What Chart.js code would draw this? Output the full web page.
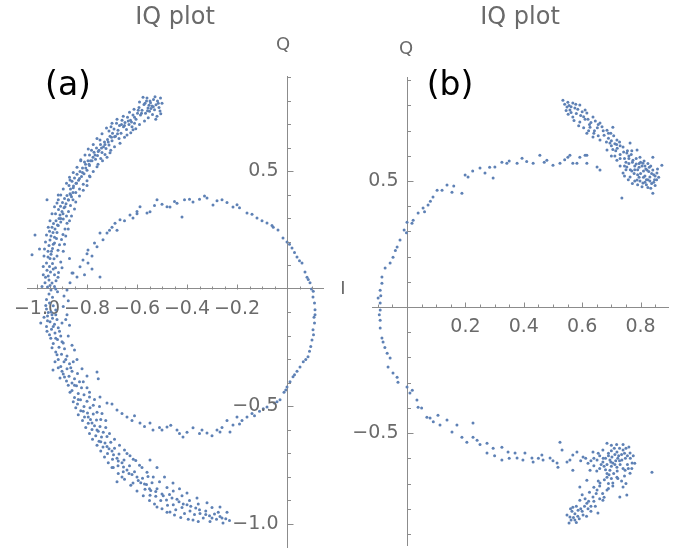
<!DOCTYPE html>
<html>
<head>
<meta charset="utf-8">
<script src="https://cdn.jsdelivr.net/npm/chart.js@4.4.0/dist/chart.umd.min.js"></script>
<style>
  html, body { margin: 0; padding: 0; background: #fff; }
  #wrap { position: relative; width: 685px; height: 549px; overflow: hidden; }
  canvas { position: absolute; top: 0; }
  #chartA { left: 0; }
  #chartB { left: 351px; }
</style>
</head>
<body>
<div id="wrap">
  <canvas id="chartA" width="350" height="549"></canvas>
  <canvas id="chartB" width="334" height="549"></canvas>
</div>
<script>
// --- PAINEL (a): pontos I/Q ---
// arco externo, metade de cima (da ponta superior até o eixo I)
const ARCO_A_SUP = [
  [-0.500,0.790],[-0.506,0.812],[-0.512,0.772],[-0.518,0.800],[-0.524,0.784],[-0.530,0.762],[-0.534,0.806],[-0.540,0.778],
  [-0.546,0.792],[-0.550,0.756],[-0.556,0.770],[-0.562,0.800],[-0.566,0.748],[-0.572,0.785],[-0.576,0.816],[-0.580,0.760],
  [-0.586,0.740],[-0.592,0.772],[-0.508,0.757],[-0.520,0.735],[-0.538,0.742],[-0.528,0.818],[-0.544,0.768],[-0.552,0.782],
  [-0.598,0.748],[-0.604,0.722],[-0.610,0.705],[-0.616,0.740],[-0.620,0.690],[-0.626,0.718],[-0.632,0.700],[-0.638,0.730],
  [-0.642,0.678],[-0.648,0.708],[-0.654,0.690],[-0.660,0.718],[-0.664,0.662],[-0.670,0.695],[-0.676,0.675],[-0.682,0.705],
  [-0.686,0.650],[-0.692,0.680],[-0.698,0.662],[-0.704,0.690],[-0.616,0.677],[-0.640,0.655],[-0.672,0.640],[-0.712,0.672],
  [-0.700,0.630],[-0.708,0.650],[-0.712,0.612],[-0.718,0.636],[-0.724,0.598],[-0.730,0.625],[-0.734,0.605],[-0.740,0.580],
  [-0.746,0.615],[-0.748,0.634],[-0.752,0.590],[-0.758,0.568],[-0.762,0.600],[-0.766,0.552],[-0.772,0.582],[-0.776,0.560],
  [-0.782,0.590],[-0.786,0.545],[-0.708,0.579],[-0.720,0.560],[-0.738,0.545],[-0.790,0.570],[-0.756,0.530],
  [-0.790,0.525],[-0.796,0.545],[-0.800,0.505],[-0.806,0.530],[-0.812,0.490],[-0.818,0.515],[-0.822,0.478],[-0.828,0.500],
  [-0.834,0.462],[-0.840,0.488],[-0.844,0.450],[-0.850,0.472],[-0.854,0.438],[-0.860,0.458],[-0.866,0.425],[-0.868,0.464],
  [-0.872,0.440],[-0.788,0.477],[-0.800,0.460],[-0.815,0.445],[-0.830,0.425],[-0.845,0.410],[-0.810,0.540],[-0.825,0.550],
  [-0.856,0.410],[-0.862,0.392],[-0.868,0.405],[-0.874,0.378],[-0.880,0.398],[-0.884,0.362],[-0.890,0.385],[-0.892,0.345],
  [-0.898,0.368],[-0.900,0.330],[-0.906,0.352],[-0.908,0.315],[-0.914,0.338],[-0.920,0.366],[-0.856,0.379],[-0.866,0.355],
  [-0.874,0.330],[-0.882,0.310],[-0.926,0.320],[-0.960,0.380],[-0.915,0.400],
  [-0.895,0.298],[-0.905,0.285],[-0.912,0.300],[-0.918,0.272],[-0.924,0.290],[-0.928,0.255],[-0.934,0.278],[-0.936,0.240],
  [-0.940,0.262],[-0.944,0.225],[-0.948,0.208],[-0.950,0.245],[-0.952,0.185],[-0.956,0.160],[-0.880,0.280],[-0.888,0.255],
  [-0.896,0.232],[-0.902,0.210],[-0.910,0.188],[-0.916,0.165],[-0.922,0.215],[-0.930,0.195],[-0.938,0.172],[-1.008,0.230],
  [-0.990,0.170],[-1.020,0.145],[-0.870,0.130],[-1.116,0.162],
  [-0.920,0.140],[-0.932,0.128],[-0.944,0.148],[-0.956,0.136],[-0.962,0.110],[-0.950,0.095],[-0.938,0.108],[-0.926,0.090],
  [-0.914,0.070],[-0.930,0.060],[-0.946,0.072],[-0.960,0.080],[-0.966,0.050],[-0.952,0.038],[-0.940,0.025],[-0.924,0.035],
  [-0.916,0.050],[-0.968,0.026],[-0.958,0.008],[-0.944,-0.004],[-0.930,0.010],[-0.918,-0.012],[-0.952,-0.022],[-0.938,-0.035],
  [-0.962,-0.045],[-0.856,0.068],[-0.905,0.115],[-0.975,0.095],
  // borda externa da faixa
  [-0.560,0.812],[-0.590,0.795],[-0.612,0.765],[-0.630,0.752],[-0.655,0.735],[-0.680,0.722],[-0.700,0.705],[-0.722,0.685],
  [-0.740,0.660],[-0.760,0.640],[-0.775,0.615],[-0.795,0.595],[-0.808,0.570],[-0.825,0.545],[-0.840,0.518],[-0.855,0.495],
  [-0.870,0.475],[-0.882,0.450],[-0.895,0.425],[-0.905,0.400],[-0.915,0.380],[-0.930,0.350],[-0.940,0.320],[-0.948,0.290],
  [-0.955,0.262],[-0.962,0.230],[-0.966,0.200],[-0.970,0.170],[-0.972,0.140],[-0.975,0.060],[-0.980,0.010],
  // borda interna da faixa
  [-0.505,0.745],[-0.525,0.722],[-0.555,0.728],[-0.570,0.715],[-0.590,0.700],[-0.605,0.682],[-0.625,0.665],[-0.650,0.645],
  [-0.668,0.620],[-0.690,0.605],[-0.705,0.590],[-0.728,0.572],[-0.745,0.555],[-0.760,0.520],[-0.775,0.500],[-0.790,0.480],
  [-0.800,0.440],[-0.815,0.420],[-0.830,0.395],[-0.845,0.370],[-0.850,0.340],[-0.862,0.310],[-0.870,0.290],[-0.875,0.255],
  [-0.885,0.225],[-0.890,0.190],[-0.895,0.160],[-0.900,0.090],
  // miolo
  [-0.515,0.790],[-0.535,0.775],[-0.548,0.800],[-0.558,0.758],[-0.568,0.790],[-0.582,0.748],[-0.595,0.760],[-0.610,0.730],
  [-0.622,0.710],[-0.635,0.715],[-0.650,0.695],[-0.662,0.700],[-0.678,0.660],[-0.690,0.648],[-0.702,0.645],[-0.715,0.625],
  [-0.728,0.615],[-0.742,0.600],[-0.755,0.585],[-0.768,0.570],[-0.780,0.545],[-0.792,0.530],[-0.805,0.515],[-0.818,0.495],
  [-0.830,0.470],[-0.842,0.450],[-0.855,0.430],[-0.865,0.400],[-0.875,0.380],[-0.888,0.350],[-0.896,0.320],[-0.905,0.300],
  [-0.915,0.270],[-0.920,0.240],[-0.930,0.220],[-0.935,0.190],[-0.942,0.160],[-0.948,0.130],[-0.935,0.085],[-0.955,0.055],
  [-0.925,0.000],[-0.948,0.015]
];

// arco externo, metade de baixo
const ARCO_A_INF = [
  [-0.950,-0.060],[-0.935,-0.072],[-0.962,-0.085],[-0.944,-0.098],[-0.925,-0.090],[-0.958,-0.115],[-0.938,-0.125],[-0.985,-0.145],
  [-0.948,-0.140],[-0.920,-0.130],[-0.930,-0.150],[-0.962,-0.160],[-0.942,-0.172],[-0.915,-0.165],[-0.928,-0.188],[-0.950,-0.195],
  [-0.905,-0.200],[-0.880,-0.110],[-0.870,-0.155],[-0.895,-0.075],[-0.900,-0.145],[-1.116,-0.055],[-0.892,-0.030],[-0.875,-0.050],
  [-0.918,-0.215],[-0.900,-0.225],[-0.935,-0.232],[-0.912,-0.248],[-0.890,-0.255],[-0.925,-0.268],[-0.902,-0.278],[-0.880,-0.285],
  [-0.915,-0.300],[-0.892,-0.310],[-0.870,-0.318],[-0.905,-0.330],[-0.880,-0.340],[-0.936,-0.345],[-0.860,-0.350],[-0.895,-0.362],
  [-0.872,-0.372],[-0.908,-0.379],[-0.850,-0.382],[-0.882,-0.392],[-0.860,-0.400],[-0.840,-0.300],[-0.850,-0.260],[-0.760,-0.353],
  [-0.755,-0.382],[-0.820,-0.340],[-0.800,-0.370],[-0.830,-0.395],
  [-0.842,-0.412],[-0.822,-0.420],[-0.860,-0.432],[-0.835,-0.445],[-0.812,-0.450],[-0.850,-0.462],[-0.826,-0.472],[-0.800,-0.478],
  [-0.838,-0.490],[-0.812,-0.500],[-0.788,-0.505],[-0.825,-0.518],[-0.798,-0.528],[-0.775,-0.532],[-0.810,-0.545],[-0.786,-0.555],
  [-0.762,-0.558],[-0.795,-0.572],[-0.770,-0.582],[-0.748,-0.585],[-0.780,-0.598],[-0.755,-0.605],[-0.735,-0.610],[-0.790,-0.440],
  [-0.770,-0.470],[-0.750,-0.500],[-0.740,-0.530],[-0.725,-0.560],
  [-0.765,-0.625],[-0.742,-0.630],[-0.720,-0.628],[-0.752,-0.648],[-0.728,-0.655],[-0.705,-0.652],[-0.736,-0.672],[-0.712,-0.680],
  [-0.690,-0.678],[-0.718,-0.700],[-0.694,-0.706],[-0.672,-0.702],[-0.698,-0.725],[-0.675,-0.732],[-0.652,-0.728],[-0.676,-0.752],
  [-0.654,-0.758],[-0.630,-0.752],[-0.655,-0.778],[-0.632,-0.785],[-0.610,-0.778],[-0.680,-0.820],[-0.616,-0.826],[-0.640,-0.700],
  [-0.615,-0.725],[-0.590,-0.750],[-0.700,-0.760],[-0.660,-0.800],
  [-0.600,-0.800],[-0.578,-0.805],[-0.556,-0.798],[-0.585,-0.825],[-0.562,-0.832],[-0.540,-0.825],[-0.568,-0.852],[-0.545,-0.858],
  [-0.520,-0.850],[-0.548,-0.878],[-0.525,-0.882],[-0.500,-0.872],[-0.520,-0.928],[-0.505,-0.900],[-0.482,-0.898],[-0.460,-0.890],
  [-0.468,-0.949],[-0.478,-0.920],[-0.455,-0.918],[-0.432,-0.905],[-0.445,-0.940],[-0.420,-0.930],[-0.400,-0.918],[-0.410,-0.955],
  [-0.388,-0.945],[-0.365,-0.932],[-0.376,-0.983],[-0.370,-0.960],[-0.348,-0.955],[-0.325,-0.945],[-0.335,-0.975],[-0.308,-0.990],
  [-0.310,-0.965],[-0.290,-0.958],[-0.282,-0.980],[-0.268,-0.968],[-0.256,-0.996],[-0.245,-0.978],[-0.230,-0.985],[-0.548,-0.728],
  [-0.520,-0.760],[-0.490,-0.800],[-0.456,-0.826],[-0.430,-0.850],[-0.400,-0.868],[-0.360,-0.890],[-0.320,-0.910],[-0.268,-0.928],
  [-0.240,-0.950],
  // borda externa
  [-0.965,-0.070],[-0.955,-0.100],[-0.972,-0.120],[-0.940,-0.110],[-0.958,-0.135],[-0.935,-0.160],[-0.960,-0.180],[-0.945,-0.210],
  [-0.925,-0.210],[-0.940,-0.250],[-0.920,-0.280],[-0.928,-0.310],[-0.915,-0.335],[-0.900,-0.350],[-0.890,-0.375],[-0.875,-0.410],
  [-0.868,-0.440],[-0.855,-0.480],[-0.845,-0.505],[-0.835,-0.535],[-0.818,-0.560],[-0.805,-0.590],[-0.790,-0.615],[-0.778,-0.640],
  [-0.760,-0.665],[-0.745,-0.690],[-0.730,-0.715],[-0.715,-0.740],[-0.695,-0.760],[-0.675,-0.785],[-0.650,-0.810],[-0.625,-0.835],
  [-0.600,-0.860],[-0.575,-0.880],[-0.550,-0.900],[-0.530,-0.915],[-0.500,-0.935],[-0.480,-0.950],[-0.450,-0.962],[-0.425,-0.972],
  [-0.395,-0.980],[-0.355,-0.990],
  // borda interna
  [-0.885,-0.130],[-0.875,-0.200],[-0.860,-0.240],[-0.855,-0.310],[-0.838,-0.360],[-0.815,-0.395],[-0.800,-0.420],[-0.790,-0.460],
  [-0.775,-0.495],[-0.760,-0.525],[-0.745,-0.555],[-0.725,-0.590],[-0.710,-0.615],[-0.690,-0.640],[-0.670,-0.665],[-0.650,-0.685],
  [-0.628,-0.710],[-0.605,-0.730],[-0.580,-0.760],[-0.560,-0.780],[-0.535,-0.800],[-0.510,-0.820],[-0.480,-0.845],[-0.455,-0.860],
  [-0.420,-0.880],[-0.390,-0.900],[-0.355,-0.915],[-0.300,-0.930],
  // miolo
  [-0.925,-0.110],[-0.910,-0.180],[-0.895,-0.230],[-0.885,-0.300],[-0.865,-0.335],[-0.850,-0.410],[-0.835,-0.470],[-0.815,-0.520],
  [-0.795,-0.545],[-0.780,-0.570],[-0.760,-0.600],[-0.745,-0.650],[-0.720,-0.670],[-0.700,-0.690],[-0.680,-0.720],[-0.660,-0.740],
  [-0.640,-0.770],[-0.620,-0.790],[-0.595,-0.815],[-0.570,-0.830],[-0.550,-0.850],[-0.525,-0.862],[-0.495,-0.880],[-0.470,-0.875],
  [-0.440,-0.895],[-0.415,-0.915],[-0.385,-0.925],[-0.350,-0.940],[-0.325,-0.960],[-0.300,-0.975],[-0.275,-0.950],[-0.260,-0.975]
];

// círculo interno (mais espaçado)
const CIRCULO_A = [
  [-0.880,-0.004],[-0.868,0.026],[-0.860,0.068],[-0.840,0.051],[-0.828,0.094],[-0.816,0.123],[-0.796,0.166],[-0.760,0.179],
  [-0.780,0.140],[-0.748,0.238],[-0.736,0.209],[-0.720,0.238],[-0.700,0.262],[-0.688,0.280],[-0.680,0.250],[-0.668,0.294],
  [-0.650,0.290],[-0.628,0.315],[-0.616,0.302],[-0.600,0.330],[-0.588,0.350],[-0.560,0.323],[-0.548,0.328],[-0.530,0.355],
  [-0.520,0.379],[-0.500,0.360],[-0.480,0.350],[-0.468,0.349],[-0.450,0.372],[-0.420,0.306],[-0.410,0.380],[-0.390,0.382],
  [-0.376,0.370],[-0.350,0.382],[-0.320,0.387],[-0.296,0.357],[-0.280,0.375],[-0.260,0.379],[-0.240,0.368],[-0.216,0.349],
  [-0.190,0.345],[-0.160,0.323],[-0.140,0.318],[-0.120,0.302],[-0.100,0.290],[-0.080,0.281],[-0.055,0.262],[-0.036,0.251],
  [-0.016,0.217],[0.000,0.200],[0.020,0.174],[0.030,0.155],[0.040,0.136],[0.060,0.110],[0.072,0.072],[0.080,0.050],
  [0.092,0.026],[0.098,0.000],[0.104,-0.034],[0.110,-0.060],[0.112,-0.089],[0.108,-0.120],[0.110,-0.145],[0.104,-0.174],
  [0.100,-0.217],[0.095,-0.245],[0.084,-0.289],[0.065,-0.310],[0.052,-0.332],[0.040,-0.350],[0.024,-0.374],[0.012,-0.395],
  [0.000,-0.417],[-0.012,-0.440],[-0.028,-0.472],[-0.050,-0.485],[-0.080,-0.502],[-0.110,-0.520],[-0.140,-0.530],[-0.160,-0.545],
  [-0.180,-0.560],[-0.200,-0.545],[-0.216,-0.579],[-0.228,-0.609],[-0.240,-0.560],[-0.268,-0.609],[-0.280,-0.600],[-0.300,-0.625],
  [-0.320,-0.613],[-0.340,-0.600],[-0.376,-0.591],[-0.400,-0.610],[-0.416,-0.630],[-0.440,-0.600],[-0.465,-0.580],[-0.480,-0.587],
  [-0.510,-0.590],[-0.536,-0.600],[-0.548,-0.570],[-0.588,-0.570],[-0.610,-0.540],[-0.640,-0.545],[-0.660,-0.530],[-0.680,-0.515],
  [-0.700,-0.490],[-0.720,-0.485],[-0.748,-0.460],[-0.796,0.110],[-0.748,0.051],[-0.810,0.060],[-0.780,0.085],
  [-0.440,0.365],[-0.330,0.395],[-0.200,0.358],[-0.060,0.270],[0.010,0.190],[0.050,0.120],[0.085,0.040],[0.105,-0.010],
  [0.112,-0.110],[0.106,-0.195],[0.090,-0.265],[0.075,-0.300],[0.030,-0.365],[-0.005,-0.430],[-0.040,-0.480],[-0.095,-0.510],
  [-0.130,-0.540],[-0.190,-0.575],[-0.260,-0.590],[-0.350,-0.615],[-0.430,-0.615],[-0.500,-0.600],[-0.570,-0.585],[-0.620,-0.560],
  [-0.600,0.320],[-0.710,0.250],[-0.770,0.195],[-0.800,0.150]
];

// --- PAINEL (b): pontos I/Q ---
// curva que liga os dois aglomerados
const CURVA_B = [
  [0.582,0.571],[0.616,0.603],[0.592,0.595],[0.568,0.571],[0.558,0.603],[0.610,0.603],[0.551,0.595],[0.651,0.556],
  [0.661,0.544],[0.616,0.571],[0.524,0.571],[0.500,0.563],[0.479,0.583],[0.455,0.603],[0.432,0.571],[0.394,0.591],
  [0.377,0.571],[0.342,0.571],[0.325,0.575],[0.301,0.556],[0.295,0.512],[0.267,0.532],[0.250,0.552],[0.209,0.516],
  [0.199,0.524],[0.188,0.452],[0.154,0.456],[0.137,0.484],[0.120,0.464],[0.103,0.464],[0.089,0.437],[0.072,0.405],
  [0.055,0.393],[0.038,0.373],[0.021,0.345],[0.017,0.333],[0.000,0.337],[-0.010,0.306],[-0.024,0.266],[-0.034,0.238],
  [-0.048,0.198],[-0.058,0.175],[-0.075,0.155],[-0.086,0.119],[-0.086,0.095],[-0.092,0.067],[-0.099,0.036],[-0.092,0.016],
  [-0.092,-0.012],[-0.092,-0.052],[-0.092,-0.083],[-0.086,-0.123],[-0.082,-0.139],[-0.068,-0.183],[-0.058,-0.202],[-0.065,-0.238],
  [-0.048,-0.262],[-0.034,-0.278],[-0.031,-0.298],[0.000,-0.317],[0.010,-0.341],[0.034,-0.369],[0.038,-0.397],[0.068,-0.437],
  [0.079,-0.440],[0.106,-0.429],[0.113,-0.468],[0.137,-0.448],[0.171,-0.468],[0.154,-0.496],[0.188,-0.516],[0.205,-0.536],
  [0.226,-0.460],[0.226,-0.516],[0.240,-0.528],[0.274,-0.540],[0.274,-0.579],[0.295,-0.560],[0.325,-0.556],[0.325,-0.607],
  [0.346,-0.575],[0.370,-0.579],[0.377,-0.599],[0.404,-0.579],[0.397,-0.607],[0.428,-0.599],[0.432,-0.615],[0.462,-0.587],
  [0.466,-0.607],[0.490,-0.599],[0.514,-0.619],[0.517,-0.635],[0.524,-0.536],[0.531,-0.567],[0.548,-0.615],[0.558,-0.607],
  [0.568,-0.587],[0.568,-0.647],[0.582,-0.575],
  [0.225,0.540],[0.283,0.555],[0.350,0.580],[0.410,0.578],[0.470,0.575],[0.540,0.585],[0.160,0.480],[0.060,0.378],
  [0.080,0.420],[-0.040,0.225],[-0.002,0.295],[0.018,-0.330],[0.050,-0.400],[0.090,-0.455],[0.250,-0.545],[0.300,-0.590],
  [0.350,-0.600],[0.450,-0.600],[0.500,-0.610],[-0.076,-0.160],[-0.095,-0.030],[-0.090,0.045]
];

// aglomerado de cima (faixa diagonal)
const AGLOM_B_SUP = [
  [0.534,0.821],[0.551,0.813],[0.548,0.794],[0.558,0.782],[0.568,0.810],[0.592,0.802],[0.610,0.782],[0.616,0.770],
  [0.540,0.805],[0.545,0.780],[0.555,0.800],[0.562,0.772],[0.575,0.790],[0.580,0.768],[0.585,0.785],[0.600,0.775],
  [0.568,0.754],[0.592,0.734],[0.605,0.755],[0.620,0.745],[0.627,0.714],[0.637,0.754],[0.630,0.732],[0.645,0.738],
  [0.661,0.730],[0.652,0.712],[0.668,0.716],[0.685,0.702],[0.705,0.714],[0.698,0.690],[0.719,0.663],[0.695,0.651],
  [0.661,0.663],[0.637,0.675],[0.616,0.690],[0.675,0.682],[0.690,0.670],[0.708,0.680],[0.712,0.648],[0.728,0.655],
  [0.740,0.635],[0.753,0.611],[0.764,0.651],[0.788,0.623],[0.798,0.595],[0.808,0.571],[0.822,0.544],[0.774,0.583],
  [0.753,0.556],[0.764,0.516],[0.788,0.504],[0.808,0.492],[0.832,0.516],[0.842,0.544],[0.856,0.532],[0.740,0.532],
  [0.719,0.583],[0.685,0.623],[0.730,0.605],[0.745,0.590],[0.760,0.600],[0.770,0.620],[0.780,0.560],[0.790,0.545],
  [0.800,0.530],[0.815,0.520],[0.825,0.505],[0.838,0.490],[0.848,0.505],[0.845,0.525],[0.830,0.555],[0.815,0.560],
  [0.800,0.575],[0.785,0.590],[0.770,0.540],[0.760,0.570],[0.795,0.515],[0.780,0.500],[0.820,0.485],[0.850,0.482],
  [0.835,0.472],[0.873,0.563],[0.842,0.595],[0.842,0.452],[0.736,0.433],[0.705,0.625],[0.720,0.630],[0.700,0.600],
  [0.750,0.575],[0.810,0.540],
  [0.760,0.590],[0.772,0.575],[0.785,0.568],[0.795,0.555],[0.805,0.560],[0.818,0.548],[0.828,0.538],[0.838,0.530],
  [0.850,0.520],[0.855,0.505],[0.845,0.495],[0.832,0.500],[0.820,0.505],[0.810,0.515],[0.798,0.500],[0.790,0.525],
  [0.778,0.530],[0.765,0.545],[0.750,0.545],[0.745,0.520],[0.758,0.505],[0.772,0.490],[0.790,0.485],[0.805,0.478],
  [0.825,0.475],[0.815,0.495],[0.780,0.545],[0.795,0.570],[0.812,0.580],[0.825,0.570],[0.835,0.560],[0.768,0.605],
  [0.755,0.620],[0.742,0.615],[0.730,0.640],[0.718,0.645],[0.700,0.660],[0.690,0.690],[0.672,0.700],[0.655,0.725],
  [0.642,0.700],[0.625,0.725],[0.610,0.745],[0.595,0.760],[0.578,0.805],[0.562,0.795],[0.552,0.765],[0.572,0.740],
  [0.588,0.720],[0.605,0.712],[0.622,0.700],[0.640,0.690],[0.655,0.680],[0.683,0.655],[0.700,0.640],[0.715,0.620],
  [0.730,0.590],[0.745,0.560],[0.862,0.515],[0.858,0.548],[0.730,0.560],[0.712,0.600]
];

// aglomerado de baixo, com a cauda para a esquerda
const AGLOM_B_INF = [
  [0.695,-0.607],[0.627,-0.647],[0.603,-0.595],[0.637,-0.575],[0.671,-0.567],[0.685,-0.540],[0.719,-0.575],[0.740,-0.567],
  [0.764,-0.579],[0.771,-0.619],[0.764,-0.659],[0.747,-0.647],[0.719,-0.635],[0.695,-0.647],[0.671,-0.615],[0.651,-0.607],
  [0.702,-0.595],[0.736,-0.607],[0.705,-0.619],[0.690,-0.580],[0.710,-0.560],[0.725,-0.590],[0.748,-0.600],[0.755,-0.625],
  [0.730,-0.625],[0.715,-0.610],[0.680,-0.600],[0.700,-0.632],[0.685,-0.660],[0.660,-0.640],[0.675,-0.632],[0.740,-0.545],
  [0.760,-0.555],[0.700,-0.548],[0.720,-0.650],[0.745,-0.670],[0.655,-0.580],[0.640,-0.600],[0.620,-0.620],[0.839,-0.655],
  [0.753,-0.746],[0.729,-0.754],
  [0.685,-0.675],[0.568,-0.794],[0.586,-0.806],[0.558,-0.833],[0.555,-0.857],[0.616,-0.778],[0.637,-0.754],[0.651,-0.726],
  [0.661,-0.698],[0.592,-0.714],[0.616,-0.687],[0.592,-0.766],[0.654,-0.817],[0.603,-0.825],[0.671,-0.766],[0.685,-0.726],
  [0.705,-0.698],[0.719,-0.675],[0.740,-0.714],[0.575,-0.820],[0.580,-0.790],[0.595,-0.800],[0.565,-0.810],[0.600,-0.745],
  [0.625,-0.735],[0.640,-0.715],[0.655,-0.690],[0.670,-0.740],[0.630,-0.790],[0.610,-0.760],[0.640,-0.770],[0.690,-0.700],
  [0.700,-0.680],[0.575,-0.845],[0.590,-0.840],[0.620,-0.800],[0.560,-0.800],[0.548,-0.825],
  [0.690,-0.590],[0.700,-0.570],[0.712,-0.585],[0.722,-0.600],[0.735,-0.585],[0.745,-0.580],[0.755,-0.590],[0.765,-0.600],
  [0.770,-0.640],[0.758,-0.640],[0.740,-0.640],[0.728,-0.610],[0.712,-0.625],[0.698,-0.615],[0.685,-0.625],[0.672,-0.600],
  [0.660,-0.590],[0.665,-0.625],[0.680,-0.645],[0.692,-0.665],[0.708,-0.660],[0.722,-0.680],[0.735,-0.690],[0.750,-0.700],
  [0.705,-0.710],[0.690,-0.720],[0.675,-0.755],[0.660,-0.760],[0.645,-0.790],[0.630,-0.810],[0.615,-0.830],[0.600,-0.810],
  [0.585,-0.830],[0.570,-0.835],[0.580,-0.855],[0.562,-0.845],[0.608,-0.790],[0.622,-0.770],[0.648,-0.740],[0.660,-0.710],
  [0.676,-0.685],[0.728,-0.560],[0.750,-0.560],[0.718,-0.545],[0.775,-0.590],[0.780,-0.620],[0.650,-0.650],[0.640,-0.630],
  [0.630,-0.610],[0.612,-0.600],[0.595,-0.610]
];

// --- TICKS ---
const X_TICKS_A = [-1.0,-0.95,-0.9,-0.85,-0.8,-0.75,-0.7,-0.65,-0.6,-0.55,-0.5,-0.45,-0.4,-0.35,-0.3,-0.25,-0.2,-0.15,-0.1,-0.05,0.05,0.1];
const X_ROTULOS_A = [-1.0,-0.8,-0.6,-0.4,-0.2];
const Y_TICKS_A = [0.9,0.8,0.7,0.6,0.5,0.4,0.3,0.2,0.1,-0.1,-0.2,-0.3,-0.4,-0.5,-0.6,-0.7,-0.8,-0.9,-1.0];
const Y_ROTULOS_A = [0.5,-0.5,-1.0];

const X_TICKS_B = [-0.1,-0.05,0.05,0.1,0.15,0.2,0.25,0.3,0.35,0.4,0.45,0.5,0.55,0.6,0.65,0.7,0.75,0.8,0.85];
const X_ROTULOS_B = [0.2,0.4,0.6,0.8];
const Y_TICKS_B = [0.9,0.8,0.7,0.6,0.5,0.4,0.3,0.2,0.1,-0.1,-0.2,-0.3,-0.4,-0.5,-0.6,-0.7,-0.8,-0.9];
const Y_ROTULOS_B = [0.5,-0.5];

const COR_PONTO = '#5E81B5';
const COR_EIXO = '#8c8c8c';
const COR_TEXTO = '#6a6a6a';
const FONTE = '"DejaVu Sans", sans-serif';

// o que cada painel desenha por cima (ticks, rótulos do eixo Q, nome dos eixos, letra)
const EXTRAS = {
  chartA: { xTicks: X_TICKS_A, xRot: X_ROTULOS_A, yTicks: Y_TICKS_A, yRot: Y_ROTULOS_A,
            letra: '(a)', letraPos: [68, 86], qPos: [283, 45], iPos: [343, 289] },
  chartB: { xTicks: X_TICKS_B, xRot: X_ROTULOS_B, yTicks: Y_TICKS_B, yRot: Y_ROTULOS_B,
            letra: '(b)', letraPos: [99, 86], qPos: [55, 49], iPos: null }
};

function formatar(v) {
  const s = Math.abs(v).toFixed(1);
  return v < 0 ? '\u2212' + s : s;
}

const eixosIQ = {
  id: 'eixosIQ',
  afterDraw(chart) {
    const cfg = EXTRAS[chart.canvas.id];
    if (!cfg) return;
    const ctx = chart.ctx;
    const xs = chart.scales.x, ys = chart.scales.y;
    const x0 = Math.round(xs.getPixelForValue(0)) + 0.5;
    const y0 = Math.round(ys.getPixelForValue(0)) + 0.5;

    ctx.save();
    // ticks para dentro, estilo Mathematica
    ctx.strokeStyle = COR_EIXO;
    ctx.lineWidth = 1;
    ctx.beginPath();
    cfg.xTicks.forEach(v => {
      const px = Math.round(xs.getPixelForValue(v)) + 0.5;
      const len = cfg.xRot.includes(v) ? 5 : 3;
      ctx.moveTo(px, y0); ctx.lineTo(px, y0 - len);
    });
    cfg.yTicks.forEach(v => {
      const py = Math.round(ys.getPixelForValue(v)) + 0.5;
      const len = cfg.yRot.includes(v) ? 6 : 3.5;
      ctx.moveTo(x0, py); ctx.lineTo(x0 + len, py);
    });
    ctx.stroke();

    // rótulos do eixo Q (à esquerda do eixo)
    ctx.fillStyle = COR_TEXTO;
    ctx.font = '19px ' + FONTE;
    ctx.textAlign = 'right';
    ctx.textBaseline = 'middle';
    cfg.yRot.forEach(v => ctx.fillText(formatar(v), x0 - 9, ys.getPixelForValue(v)));

    // nomes dos eixos
    ctx.textAlign = 'center';
    ctx.font = '18px ' + FONTE;
    ctx.fillText('Q', cfg.qPos[0], cfg.qPos[1]);
    if (cfg.iPos) ctx.fillText('I', cfg.iPos[0], cfg.iPos[1]);

    // letra do painel
    ctx.fillStyle = '#000';
    ctx.font = '33px ' + FONTE;
    ctx.fillText(cfg.letra, cfg.letraPos[0], cfg.letraPos[1]);
    ctx.restore();
  }
};

function criarPainel(id, pontos, limites, rotulosX, padding, tituloPadBottom) {
  return new Chart(document.getElementById(id), {
    type: 'scatter',
    data: {
      datasets: [{
        data: pontos.map(([i, q]) => ({ x: i, y: q })),
        backgroundColor: COR_PONTO,
        pointRadius: 1.5,
        pointBorderWidth: 0,
        pointHoverRadius: 1.5,
        clip: false
      }]
    },
    options: {
      responsive: false,
      animation: false,
      devicePixelRatio: 1,
      layout: { padding: padding },
      plugins: {
        legend: { display: false },
        tooltip: { enabled: false },
        title: {
          display: true,
          text: 'IQ plot',
          color: COR_TEXTO,
          font: { family: FONTE, size: 24, weight: 'normal' },
          padding: { top: 3, bottom: tituloPadBottom }
        }
      },
      scales: {
        x: {
          type: 'linear',
          position: { y: 0 },
          min: limites.xMin, max: limites.xMax,
          grid: { display: false, drawTicks: false },
          border: { display: true, color: COR_EIXO, width: 1 },
          afterBuildTicks: s => { s.ticks = rotulosX.map(v => ({ value: v })); },
          ticks: {
            autoSkip: false, maxRotation: 0, minRotation: 0, padding: 9,
            color: COR_TEXTO, font: { family: FONTE, size: 19 },
            callback: v => formatar(v)
          }
        },
        y: {
          type: 'linear',
          position: { x: 0 },
          min: limites.yMin, max: limites.yMax,
          grid: { display: false, drawTicks: false },
          border: { display: true, color: COR_EIXO, width: 1 },
          ticks: { display: false }
        }
      }
    },
    plugins: [eixosIQ]
  });
}

const chartAInstance = criarPainel('chartA',
  ARCO_A_SUP.concat(ARCO_A_INF, CIRCULO_A),
  { xMin: -1.04, xMax: 0.144, yMin: -1.098, yMax: 0.906 },
  X_ROTULOS_A, { left: 27, right: 27, top: 0, bottom: 2 }, 44.2);

const chartBInstance = criarPainel('chartB',
  CURVA_B.concat(AGLOM_B_SUP, AGLOM_B_INF),
  { xMin: -0.12, xMax: 0.894, yMin: -0.944, yMax: 0.913 },
  X_ROTULOS_B, { left: 21, right: 17, top: 0, bottom: 4 }, 45.2);
</script>
</body>
</html>
